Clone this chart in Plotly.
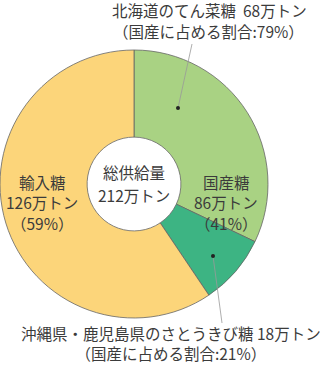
import plotly.graph_objects as go

W, H = 320, 367
labels = ["北海道のてん菜糖", "沖縄県・鹿児島県のさとうきび糖", "輸入糖"]
values = [68, 18, 126]
colors = ["#a9d283", "#3db483", "#fcd57a"]

FONT = "Noto Sans CJK JP, Noto Sans, sans-serif"
TXT = "#3b3b3b"

cx, cy, r = 134, 184, 134

fig = go.Figure(go.Pie(
    labels=labels, values=values, sort=False, direction="clockwise", rotation=0,
    hole=0.35, textinfo="none", hoverinfo="label+value",
    marker=dict(colors=colors, line=dict(color="#666666", width=0.8)),
    domain=dict(x=[(cx - r) / W, (cx + r) / W], y=[1 - (cy + r) / H, 1 - (cy - r) / H]),
    showlegend=False,
))

def px(x, y):
    return x / W, 1 - y / H

texts = [
    ("北海道のてん菜糖  68万トン", 209, 10, "middle"),
    ("（国産に占める割合:79%）", 208, 31, "middle"),
    ("総供給量", 134, 172, "middle"),
    ("212万トン", 134, 195, "middle"),
    ("輸入糖", 42, 182, "middle"),
    ("126万トン", 42, 202, "middle"),
    ("（59%）", 42, 223, "middle"),
    ("国産糖", 226, 182, "middle"),
    ("86万トン", 226, 202, "middle"),
    ("（41%）", 226, 223, "middle"),
    ("沖縄県・鹿児島県のさとうきび糖 18万トン<br>（国産に占める割合:21%）", 171, 366, "bottom"),
]
anns = []
for t, x, y, ya in texts:
    ax, ay = px(x, y)
    anns.append(dict(text=t, x=ax, y=ay, xref="paper", yref="paper", showarrow=False,
                     xanchor="center", yanchor=ya, align="center",
                     font=dict(family=FONT, size=15.5, color=TXT)))

shapes = []
for (x0, y0, x1, y1) in [(192, 44, 178, 108), (213, 256, 222, 323)]:
    a0, b0 = px(x0, y0)
    a1, b1 = px(x1, y1)
    shapes.append(dict(type="line", xref="paper", yref="paper", x0=a0, y0=b0, x1=a1, y1=b1,
                       line=dict(color="#999999", width=0.8)))
for (x, y) in [(178, 108), (213, 256)]:
    a0, b0 = px(x - 2, y - 2)
    a1, b1 = px(x + 2, y + 2)
    shapes.append(dict(type="circle", xref="paper", yref="paper", x0=a0, y0=b0, x1=a1, y1=b1,
                       fillcolor="#222222", line=dict(width=0)))

fig.update_layout(width=W, height=H, margin=dict(l=0, r=0, t=0, b=0),
                  paper_bgcolor="white", plot_bgcolor="white",
                  annotations=anns, shapes=shapes)
fig.write_html("out.html")
